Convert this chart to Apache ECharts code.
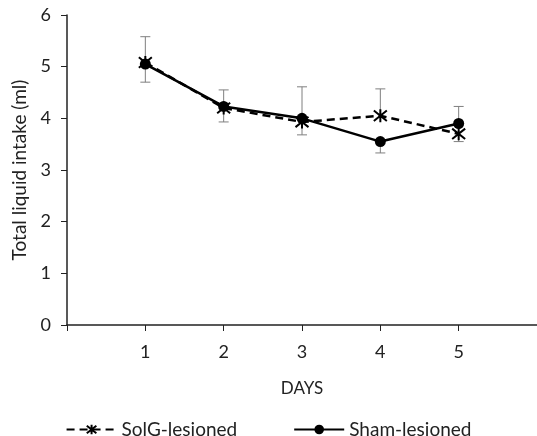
<!DOCTYPE html>
<html>
<head>
<meta charset="utf-8">
<script src="https://cdn.jsdelivr.net/npm/echarts@6/dist/echarts.min.js"></script>
<style>
html,body{margin:0;padding:0;background:#fff;}
#main{width:537px;height:436px;}
</style>
</head>
<body>
<div id="main"></div>
<script>
var days = [1, 2, 3, 4, 5];
var solg = [5.08, 4.20, 3.93, 4.05, 3.70];
var sham = [5.05, 4.23, 4.00, 3.55, 3.90];
// error bar ends (null = no bar drawn on that side)
var solgHigh = [5.58, 4.55, null, 4.57, null];
var solgLow = [null, null, 3.68, null, 3.55];
var shamHigh = [null, null, 4.61, null, 4.23];
var shamLow = [4.70, 3.93, null, 3.33, null];
var yTicks = [0, 1, 2, 3, 4, 5, 6];

var starPath = 'path://M0,-10 L0,10 M-8,-8 L8,8 M-8,8 L8,-8';
var font = 'Lato, "Open Sans", sans-serif';

function pairs(xs, ys) {
    return xs.map(function (x, i) { return [x, ys[i]]; });
}

function errData(mid, hi, lo) {
    var out = [];
    for (var i = 0; i < days.length; i++) {
        if (hi[i] != null) out.push([days[i], mid[i], hi[i]]);
        if (lo[i] != null) out.push([days[i], mid[i], lo[i]]);
    }
    return out;
}

function renderErr(params, api) {
    var p0 = api.coord([api.value(0), api.value(1)]);
    var p1 = api.coord([api.value(0), api.value(2)]);
    var cap = 5;
    var style = {stroke: '#7f7f7f', lineWidth: 1};
    return {
        type: 'group',
        children: [
            {type: 'line', shape: {x1: p0[0], y1: p0[1], x2: p1[0], y2: p1[1]}, style: style},
            {type: 'line', shape: {x1: p1[0] - cap, y1: p1[1], x2: p1[0] + cap, y2: p1[1]}, style: style}
        ]
    };
}

var myChart = echarts.init(document.getElementById('main'));
var option = {
    backgroundColor: '#fff',
    animation: false,
    textStyle: {fontFamily: font},
    grid: {
        left: 67,
        right: -2,
        top: 15,
        bottom: 111
    },
    legend: {
        top: 415,
        left: 'center',
        itemWidth: 50,
        itemHeight: 12,
        itemGap: 56,
        textStyle: {fontFamily: font, fontSize: 19, color: '#222'},
        data: ['SolG-lesioned', 'Sham-lesioned']
    },
    xAxis: {
        type: 'value',
        min: 0,
        max: 6,
        interval: 1,
        name: 'DAYS',
        nameLocation: 'middle',
        nameGap: 55,
        nameTextStyle: {fontFamily: font, fontSize: 17, color: '#222'},
        axisLine: {lineStyle: {color: '#222', width: 1.5}},
        axisTick: {show: true, length: 6, lineStyle: {color: '#222'}, customValues: [0, 1, 2, 3, 4, 5]},
        axisLabel: {fontSize: 18, color: '#222', margin: 18, customValues: days},
        splitLine: {show: false}
    },
    yAxis: {
        type: 'value',
        min: 0,
        max: 6,
        interval: 1,
        name: 'Total liquid intake (ml)',
        nameLocation: 'middle',
        nameGap: 38,
        nameTextStyle: {fontFamily: font, fontSize: 19, color: '#222'},
        axisLine: {show: true, lineStyle: {color: '#222', width: 1.5}},
        axisTick: {show: true, length: 6, lineStyle: {color: '#222'}},
        axisLabel: {fontSize: 18, color: '#222', margin: 16, customValues: yTicks},
        splitLine: {show: false}
    },
    series: [
        {
            name: 'SolG-lesioned',
            type: 'line',
            data: pairs(days, solg),
            symbol: starPath,
            symbolSize: 13,
            z: 4,
            lineStyle: {color: '#000', width: 2.5, type: [8, 5]},
            itemStyle: {color: '#000', borderColor: '#000', borderWidth: 2}
        },
        {
            name: 'Sham-lesioned',
            type: 'line',
            data: pairs(days, sham),
            symbol: 'circle',
            symbolSize: 11,
            z: 5,
            lineStyle: {color: '#000', width: 2.5},
            itemStyle: {color: '#000'}
        },
        {
            name: 'errSolG',
            type: 'custom',
            renderItem: renderErr,
            data: errData(solg, solgHigh, solgLow),
            z: 2,
            silent: true
        },
        {
            name: 'errSham',
            type: 'custom',
            renderItem: renderErr,
            data: errData(sham, shamHigh, shamLow),
            z: 2,
            silent: true
        }
    ]
};
myChart.setOption(option);
</script>
</body>
</html>
